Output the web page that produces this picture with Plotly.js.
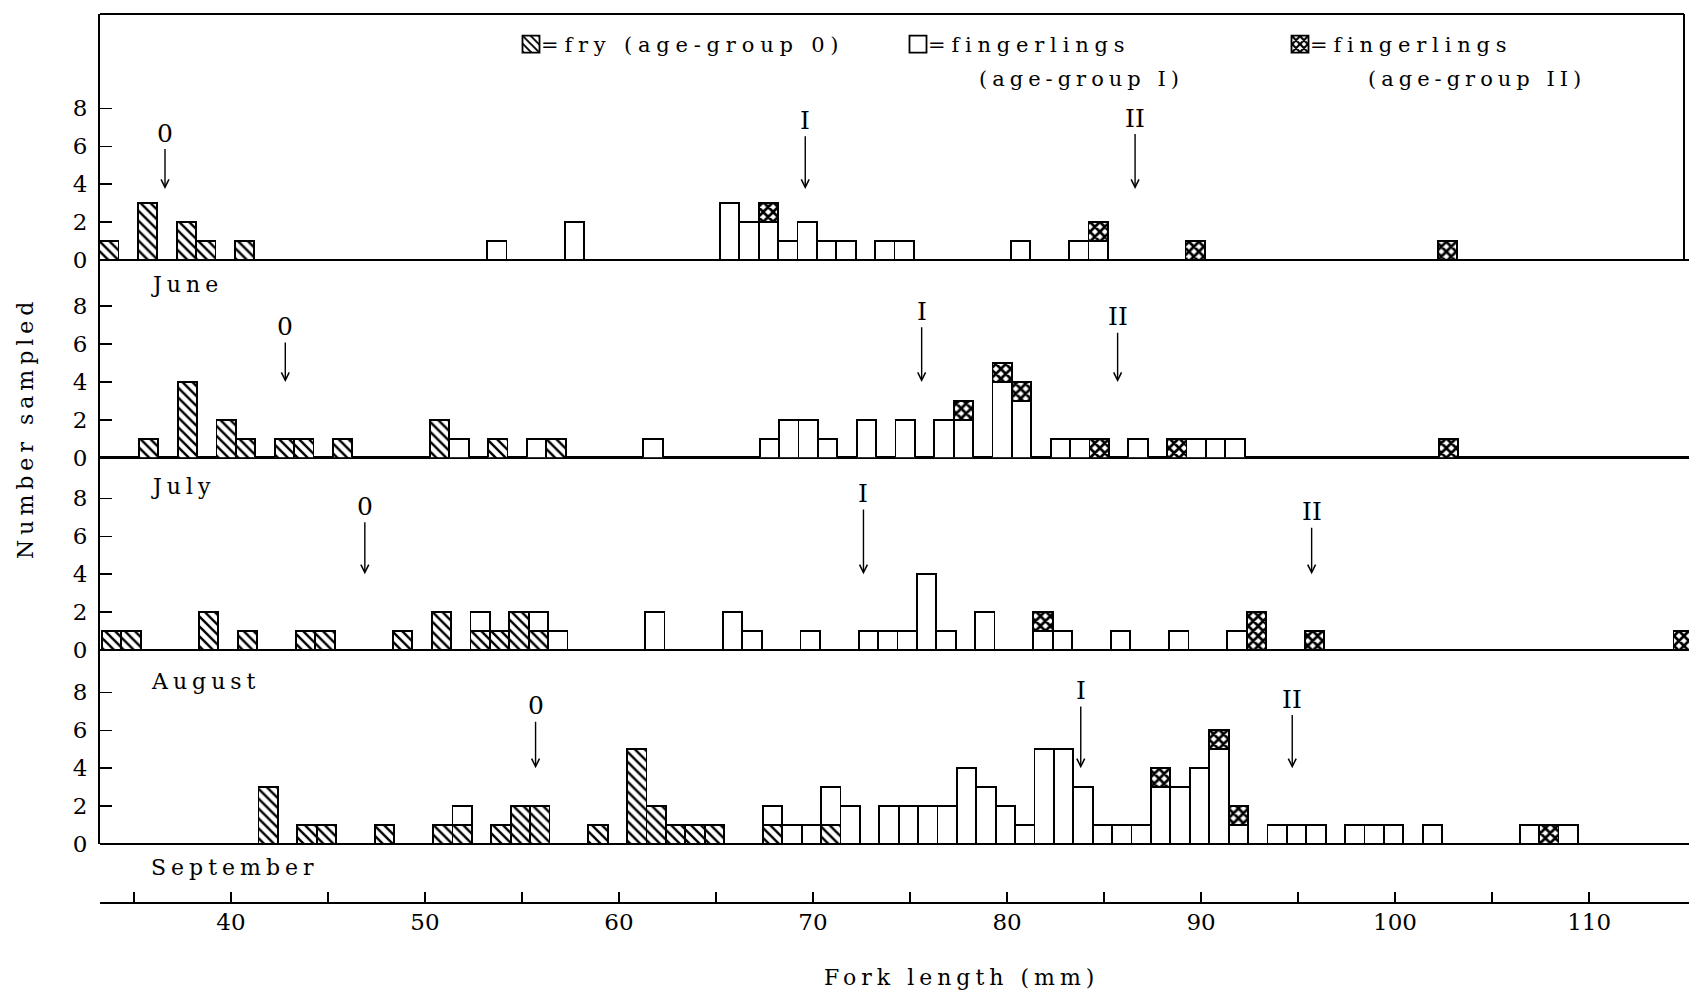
<!DOCTYPE html>
<html>
<head>
<meta charset="utf-8">
<script src="https://cdn.plot.ly/plotly-3.0.1.min.js"></script>
<style>
  html, body { margin: 0; padding: 0; background: #fff; }
  #chart { width: 1689px; height: 994px; }
  .legendtext { letter-spacing: 5.8px; }
  g.annotation[data-index="0"] text, g.annotation[data-index="1"] text,
  g.annotation[data-index="2"] text, g.annotation[data-index="3"] text,
  g.annotation[data-index="4"] text, g.annotation[data-index="5"] text,
  g.annotation[data-index="6"] text, g.annotation[data-index="7"] text { letter-spacing: 5px; }
</style>
</head>
<body>
<div id="chart"></div>
<script>
// ---------------- DATA ----------------
const months = ['June', 'July', 'August', 'September'];
const seriesNames = ['=fry (age-group 0)', '=fingerlings', '=fingerlings'];
const seriesSubNames = ['', '(age-group I)', '(age-group II)'];
const groupMarks = ['0', 'I', 'II'];

// fork length class (mm, lower edge) and number sampled
const juneFryLen = [33, 35, 37, 38, 40];
const juneFryN   = [1, 3, 2, 1, 1];
const juneILen   = [53, 57, 65, 66, 67, 68, 69, 70, 71, 73, 74, 80, 83, 84];
const juneIN     = [1, 2, 3, 2, 2, 1, 2, 1, 1, 1, 1, 1, 1, 1];
const juneIILen  = [67, 84, 89, 102];
const juneIIN    = [1, 1, 1, 1];

const julyFryLen = [35, 37, 39, 40, 42, 43, 45, 50, 53, 56];
const julyFryN   = [1, 4, 2, 1, 1, 1, 1, 2, 1, 1];
const julyILen   = [51, 55, 61, 67, 68, 69, 70, 72, 74, 76, 77, 79, 80, 82, 83, 86, 89, 90, 91];
const julyIN     = [1, 1, 1, 1, 2, 2, 1, 2, 2, 2, 2, 4, 3, 1, 1, 1, 1, 1, 1];
const julyIILen  = [77, 79, 80, 84, 88, 102];
const julyIIN    = [1, 1, 1, 1, 1, 1];

const augFryLen = [33, 34, 38, 40, 43, 44, 48, 50, 52, 53, 54, 55];
const augFryN   = [1, 1, 2, 1, 1, 1, 1, 2, 1, 1, 2, 1];
const augILen   = [52, 55, 56, 61, 65, 66, 69, 72, 73, 74, 75, 76, 78, 81, 82, 85, 88, 91];
const augIN     = [1, 1, 1, 2, 2, 1, 1, 1, 1, 1, 4, 1, 2, 1, 1, 1, 1, 1];
const augIILen  = [81, 92, 95, 114];
const augIIN    = [1, 2, 1, 1];

const sepFryLen = [41, 43, 44, 47, 50, 51, 53, 54, 55, 58, 60, 61, 62, 63, 64, 67, 70];
const sepFryN   = [3, 1, 1, 1, 1, 1, 1, 2, 2, 1, 5, 2, 1, 1, 1, 1, 1];
const sepILen   = [51, 67, 68, 69, 70, 71, 73, 74, 75, 76, 77, 78, 79, 80, 81, 82, 83, 84, 85, 86,
                   87, 88, 89, 90, 91, 93, 94, 95, 97, 98, 99, 101, 106, 108];
const sepIN     = [1, 1, 1, 1, 2, 2, 2, 2, 2, 2, 4, 3, 2, 1, 5, 5, 3, 1, 1, 1,
                   3, 3, 4, 5, 1, 1, 1, 1, 1, 1, 1, 1, 1, 1];
const sepIILen  = [87, 90, 91, 107];
const sepIIN    = [1, 1, 1, 1];

// mean fork length of each age group (arrows)
const juneMean = [36.6, 69.6, 86.6];
const julyMean = [42.8, 75.6, 85.7];
const augMean  = [46.9, 72.6, 95.7];
const sepMean  = [55.7, 83.8, 94.7];

// axis ticks
const xTickVals = [35, 40, 45, 50, 55, 60, 65, 70, 75, 80, 85, 90, 95, 100, 105, 110];
const xTickText = ['', '40', '', '50', '', '60', '', '70', '', '80', '', '90', '', '100', '', '110'];
const yTickVals = [0, 2, 4, 6, 8];

// ---------------- LAYOUT / STYLE ----------------
const W = 1689, H = 994;
const FONT = 'DejaVu Serif';
const px = v => v / W;
const py = v => 1 - v / H;
const UNIT = 18.95;                 // px per fish
const panelTop    = [14, 260, 457.7, 650];
const panelBase   = [260, 457.7, 650, 844];
const barOffset   = [0.2, 0.25, 0.35, 0.42];
const arrowTip    = [3.75, 4.0, 4.0, 4.0];
const labelHeight = [[6.7, 7.38, 7.49], [6.93, 7.73, 7.44], [7.58, 8.26, 7.30], [7.30, 8.10, 7.65]];
const monthLabelY = [285, 486, 681, 867];
const legendItemWidth = [342, 337, 337];

const panelData = [
  [[juneFryLen, juneFryN], [juneILen, juneIN], [juneIILen, juneIIN], juneMean],
  [[julyFryLen, julyFryN], [julyILen, julyIN], [julyIILen, julyIIN], julyMean],
  [[augFryLen, augFryN],   [augILen, augIN],   [augIILen, augIIN],   augMean],
  [[sepFryLen, sepFryN],   [sepILen, sepIN],   [sepIILen, sepIIN],   sepMean]
];

const markerStyles = [
  {color: 'white', line: {color: 'black', width: 1.8},
   pattern: {shape: '\\', fgcolor: 'black', bgcolor: 'white', size: 7, solidity: 0.34}},
  {color: 'white', line: {color: 'black', width: 1.8}},
  {color: 'white', line: {color: 'black', width: 1.8},
   pattern: {shape: 'x', fgcolor: 'black', bgcolor: 'white', size: 7, solidity: 0.62}}
];

const traces = [];
const layout = {
  width: W, height: H, autosize: false,
  margin: {l: 0, r: 0, t: 0, b: 0, pad: 0},
  paper_bgcolor: 'white', plot_bgcolor: 'rgba(0,0,0,0)',
  barmode: 'stack',
  font: {family: FONT, color: 'black', size: 21},
  showlegend: true,
  legend: {
    orientation: 'h', x: px(511), xanchor: 'left', y: py(24), yanchor: 'top',
    entrywidthmode: 'pixels',
    font: {family: FONT, size: 21, color: 'black'},
    bgcolor: 'rgba(0,0,0,0)', borderwidth: 0, traceorder: 'normal'
  },
  xaxis: {
    domain: [px(100), 1], range: [33.25, 115.15],
    anchor: 'free', position: 1 - 903 / H,
    showline: true, linecolor: 'black', linewidth: 2,
    ticks: 'inside', ticklen: 10, tickwidth: 1.5, tickcolor: 'black',
    tickmode: 'array', tickvals: xTickVals, ticktext: xTickText,
    tickfont: {family: FONT, size: 23, color: 'black'},
    ticklabelstandoff: -2,
    showgrid: false, zeroline: false, fixedrange: true
  },
  shapes: [
    {type: 'line', xref: 'paper', yref: 'paper', x0: px(100), x1: px(1684), y0: py(14), y1: py(14),
     line: {color: 'black', width: 2}},
    {type: 'line', xref: 'paper', yref: 'paper', x0: px(1684), x1: px(1684), y0: py(14), y1: py(260),
     line: {color: 'black', width: 2}}
  ],
  annotations: [
    {xref: 'paper', yref: 'paper', x: px(961), y: py(977), text: 'Fork length (mm)', showarrow: false,
     xanchor: 'center', yanchor: 'middle', font: {family: FONT, size: 22, color: 'black'}},
    {xref: 'paper', yref: 'paper', x: px(26), y: py(428), text: 'Number sampled', showarrow: false,
     textangle: -90, xanchor: 'center', yanchor: 'middle', font: {family: FONT, size: 22, color: 'black'}}
  ]
};

months.forEach((m, i) => {
  layout.annotations.push({xref: 'paper', yref: 'paper', x: px(149), y: py(monthLabelY[i]), text: m,
    showarrow: false, xanchor: 'left', align: 'left', yanchor: 'middle',
    font: {family: FONT, size: 22, color: 'black'}});
});
layout.annotations.push({xref: 'paper', yref: 'paper', x: px(977), y: py(79), text: seriesSubNames[1],
  showarrow: false, xanchor: 'left', align: 'left', yanchor: 'middle', font: {family: FONT, size: 21, color: 'black'}});
layout.annotations.push({xref: 'paper', yref: 'paper', x: px(1366), y: py(79), text: seriesSubNames[2],
  showarrow: false, xanchor: 'left', align: 'left', yanchor: 'middle', font: {family: FONT, size: 21, color: 'black'}});

panelData.forEach((pd, i) => {
  const yName = i === 0 ? 'y' : 'y' + (i + 1);
  const yKey = i === 0 ? 'yaxis' : 'yaxis' + (i + 1);
  const range = (panelBase[i] - panelTop[i]) / UNIT;
  layout[yKey] = {
    domain: [py(panelBase[i]), py(panelTop[i])], range: [0, range], anchor: 'x',
    showline: true, linecolor: 'black', linewidth: 2,
    ticks: 'inside', ticklen: 12, tickwidth: 1.5, tickcolor: 'black',
    tickmode: 'array', tickvals: yTickVals, ticklabelstandoff: 6,
    tickfont: {family: FONT, size: 23, color: 'black'},
    showgrid: false, zeroline: true, zerolinecolor: 'black', zerolinewidth: 2.5, fixedrange: true
  };
  for (let s = 0; s < 3; s++) {
    traces.push({
      type: 'bar', x: pd[s][0], y: pd[s][1], xaxis: 'x', yaxis: yName,
      width: 1, offset: barOffset[i],
      marker: markerStyles[s], name: seriesNames[s], legendgroup: 'g' + s,
      legendwidth: legendItemWidth[s],
      showlegend: i === 0, hoverinfo: 'skip', cliponaxis: false
    });
  }
  const means = pd[3];
  means.forEach((mx, g) => {
    layout.annotations.push({
      xref: 'x', yref: yName, x: mx, y: arrowTip[i],
      axref: 'x', ayref: yName, ax: mx, ay: labelHeight[i][g],
      text: groupMarks[g], showarrow: true, arrowhead: 5, arrowsize: 1.1, arrowwidth: 1.4,
      arrowcolor: 'black', standoff: 0, borderpad: 1,
      font: {family: FONT, size: 25, color: 'black'}
    });
  });
});

Plotly.newPlot('chart', traces, layout, {staticPlot: true, displayModeBar: false}).then(gd => {
  // larger legend swatches, text right after the swatch (as in the printed key)
  gd.querySelectorAll('.legend .legendpoints path').forEach(p => p.setAttribute('d', 'M8.5,8.5H-8.5V-8.5H8.5Z'));
  gd.querySelectorAll('.legend .legendtext').forEach(t => t.setAttribute('x', 30));
});
</script>
</body>
</html>
